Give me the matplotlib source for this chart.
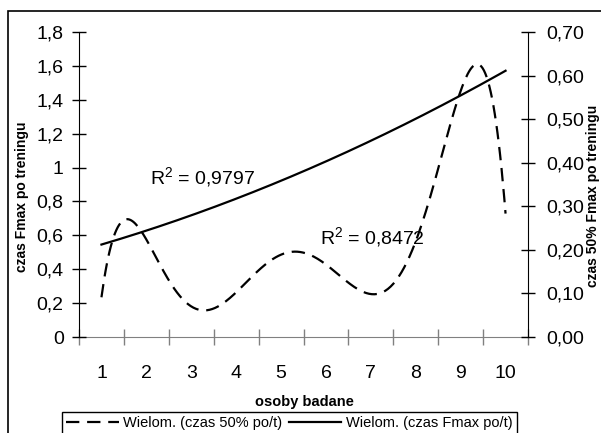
import numpy as np
import matplotlib
matplotlib.use("Agg")
from matplotlib import pyplot as plt
from matplotlib.patches import Rectangle
from matplotlib.ticker import FixedLocator, FuncFormatter

plt.rcParams['font.family'] = ['Liberation Sans', 'DejaVu Sans']
plt.rcParams['mathtext.fontset'] = 'custom'
plt.rcParams['mathtext.rm'] = 'Liberation Sans'
plt.rcParams['mathtext.it'] = 'Liberation Sans'

# osoby badane (kategorie na osi X)
categories = [1, 2, 3, 4, 5, 6, 7, 8, 9, 10]

fmax_x = [1.02, 1.86, 2.45, 3.49, 4.6, 5.42, 6.39, 7.35, 8.39, 9.28, 10.0]
fmax_y = [0.559, 0.612, 0.661, 0.760, 0.868, 0.976, 1.084, 1.202, 1.36, 1.468, 1.557]

half_x = [1.0, 1.19, 1.56, 1.9, 2.19, 2.53, 2.9, 3.3, 3.71, 4.16, 4.75, 5.27, 5.79,
          6.31, 6.76, 7.09, 7.5, 7.95, 8.24, 8.54, 8.84, 9.19, 9.42, 9.58, 9.8, 9.95, 10.0]
half_y = [0.091, 0.20, 0.271, 0.242, 0.188, 0.124, 0.077, 0.060, 0.077, 0.123, 0.17, 0.201, 0.177,
          0.142, 0.108, 0.0925, 0.123, 0.207, 0.299, 0.406, 0.506, 0.605, 0.624, 0.597, 0.49, 0.353, 0.272]

r2_fmax = "0,9797"
r2_half = "0,8472"

left_ticks = [0, 0.2, 0.4, 0.6, 0.8, 1.0, 1.2, 1.4, 1.6, 1.8]
right_ticks = [0, 0.1, 0.2, 0.3, 0.4, 0.5, 0.6, 0.7]

W, H = 601, 433
fig = plt.figure(figsize=(W / 100, H / 100), dpi=100)
ax = fig.add_axes([79 / W, 1 - 337 / H, 449 / W, 305 / H])
ax2 = ax.twinx()

# wielomianowe linie trendu
xs = np.linspace(1, 10, 300)
p_fmax = np.polyfit(fmax_x, fmax_y, 2)
p_half = np.polyfit(half_x, half_y, 6)
l_fmax, = ax.plot(xs, np.polyval(p_fmax, xs), color='black', lw=1.6,
                  label='Wielom. (czas Fmax po/t)')
l_half, = ax2.plot(xs, np.polyval(p_half, xs), color='black', lw=1.6,
                   linestyle=(0, (6, 3.5)), label='Wielom. (czas 50% po/t)')

ax.set_xlim(0.5, 10.5)
ax.set_ylim(0, 1.8)
ax2.set_ylim(0, 0.7)

# oś X: kreski między kategoriami, etykiety na środku
ax.xaxis.set_major_locator(FixedLocator(np.arange(0.5, 11, 1.0)))
ax.xaxis.set_major_formatter(FuncFormatter(lambda v, p: ''))
ax.xaxis.set_minor_locator(FixedLocator(categories))
ax.xaxis.set_minor_formatter(FuncFormatter(lambda v, p: f"{int(round(v))}"))
ax.tick_params(axis='x', which='major', direction='inout', length=12, color='#808080', width=1)
ax.tick_params(axis='x', which='minor', length=0, pad=20, labelsize=14)

def pl_left(v, p):
    s = f"{v:.1f}".replace('.', ',')
    return s[:-2] if s.endswith(',0') else s

ax.yaxis.set_major_locator(FixedLocator(left_ticks))
ax.yaxis.set_major_formatter(FuncFormatter(pl_left))
ax.tick_params(axis='y', direction='inout', length=10, width=1, pad=6, labelsize=14)

ax2.yaxis.set_major_locator(FixedLocator(right_ticks))
ax2.yaxis.set_major_formatter(FuncFormatter(lambda v, p: f"{v:.2f}".replace('.', ',')))
ax2.tick_params(axis='y', direction='inout', length=10, width=1, pad=8, labelsize=14)

for a in (ax, ax2):
    a.spines['top'].set_visible(False)
    a.patch.set_visible(False)
ax2.spines['left'].set_visible(False)
ax2.spines['bottom'].set_visible(False)
ax.spines['right'].set_visible(False)
ax.spines['bottom'].set_color('#808080')
ax.spines['bottom'].set_zorder(0)

fig.text(22 / W, 1 - 197 / H, 'czas Fmax po treningu', rotation=90, ha='center',
         va='center', fontsize=10, fontweight='bold')
fig.text(593 / W, 1 - 196 / H, 'czas 50% Fmax po treningu', rotation=90, ha='center',
         va='center', fontsize=10, fontweight='bold')
fig.text(304 / W, 1 - 402 / H, 'osoby badane', ha='center', va='center',
         fontsize=10.5, fontweight='bold')

ax.text(3.26, 0.944, f"R$^2$ = {r2_fmax}", ha='center', va='center', fontsize=14)
ax2.text(7.03, 0.23, f"R$^2$ = {r2_half}", ha='center', va='center', fontsize=14)

# ramka wykresu
fig.add_artist(Rectangle((8 / W, -0.1), 1.1, 1 - 11 / H + 0.1, transform=fig.transFigure,
                         fill=False, edgecolor='black', lw=1.2))

leg = fig.legend(handles=[l_half, l_fmax], loc='upper left', ncol=2,
                 bbox_to_anchor=(62 / W, 1 - 412 / H), frameon=True, fancybox=False,
                 edgecolor='black', framealpha=1, fontsize=10.5, handlelength=3.6,
                 handletextpad=0.3, columnspacing=0.45, borderpad=0.3,
                 borderaxespad=0)
leg.get_frame().set_linewidth(1.0)

fig.savefig('out.png', dpi=100)
